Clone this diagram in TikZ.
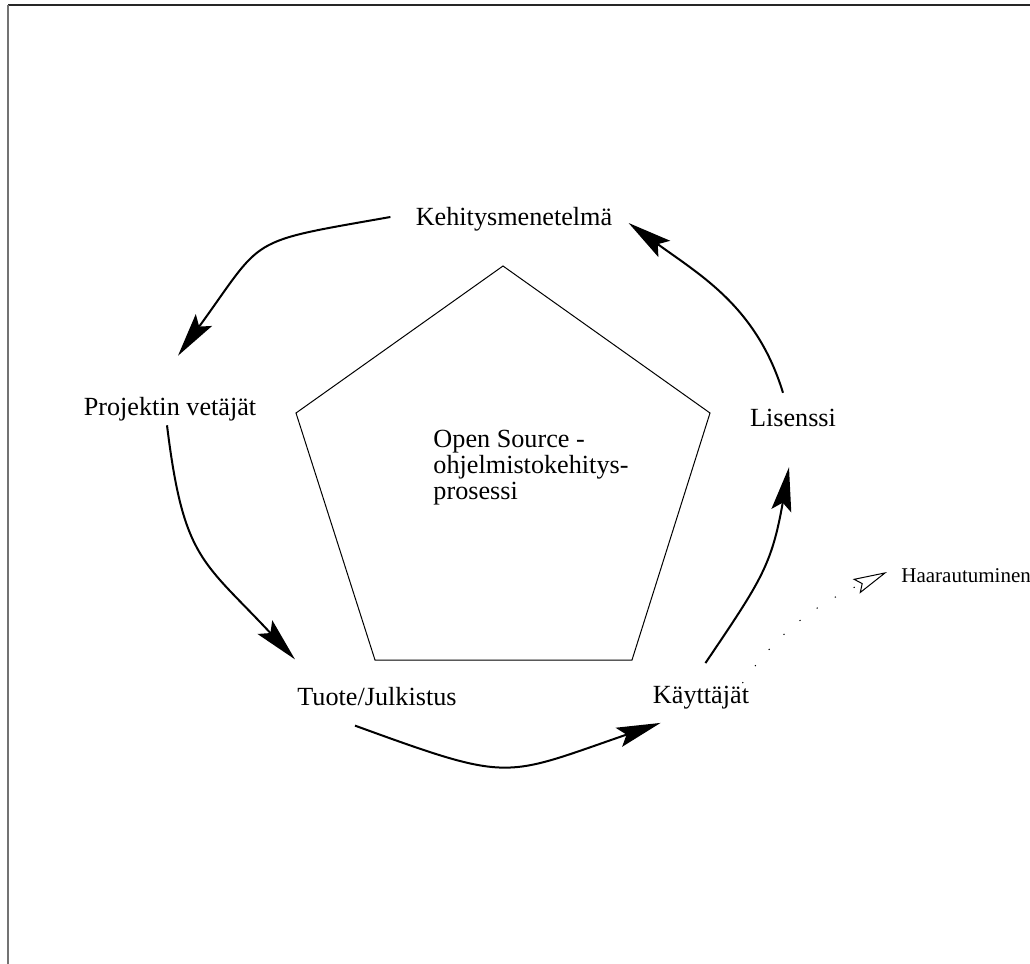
\documentclass[tikz,border=0pt]{standalone}
\usepackage{fontspec}
\setmainfont{Liberation Serif}
\usetikzlibrary{arrows.meta}

\begin{document}
\begin{tikzpicture}[x=0.5pt,y=-0.5pt]
	\useasboundingbox (0,0) rectangle (1030,964);
	% frame
	\draw[line width=1pt,black!85] (8,5) -- (1030,5);
	\draw[line width=1pt,black!55] (8,5) -- (8,964);
	% process pentagon
	\draw[line width=0.5pt] (503,266) -- (710,413) -- (632,660) -- (375,660) -- (296,413) -- cycle;

	\begin{scope}[every node/.style={inner sep=0pt,font=\fontsize{13.1}{13}\selectfont}]
	    \node (K) at (514,219) {Kehitysmenetelmä};
	    \node (P) at (170,409) {Projektin vetäjät};
	    \node (L) at (793,418) {Lisenssi};
	    \node (T) at (377,697) {Tuote/Julkistus};
	    \node (Ky) at (701,698) {Käyttäjät};
	    \node[align=left] (O) at (531,468) {Open Source -\\ohjelmistokehitys-\\prosessi};
	    \node[anchor=west,font=\fontsize{10.5}{12}\selectfont] (H) at (901,576) {Haarautuminen};
	\end{scope}

	\begin{scope}[>={Stealth[length=22pt,width=10pt,inset=4pt]},
	              every edge/.style={draw=black,line width=1pt}]
    	\path [->] ([shift={(-25,-2)}]K.west) edge [out=190,in=54,looseness=1.5] ([shift={(8,-41)}]P.north);
    	\path [->] ([shift={(-3,4)}]P.south) edge [out=-83,in=133,looseness=1.3] ([shift={(-2,-28)}]T.north west);
    	\path [->] ([shift={(58,19)}]T.south west) edge [out=-20,in=199,looseness=1.4] ([shift={(8,13)}]Ky.south west);
    	\path [->] ([shift={(-44,-23)}]Ky.north east) edge [out=56,in=-100,looseness=1.2] ([shift={(-4,40)}]L.south);
    	\path [->] ([shift={(-10,-16)}]L.north) edge [out=107,in=-36] ([shift={(16,4)}]K.east);
	\end{scope}

	\path [-{Stealth[open,length=17pt,width=8pt,inset=3pt]},draw=black,line width=0.5pt,
	       dash pattern=on 0.6pt off 10pt] ([shift={(-7,-3)}]Ky.north east) to [out=55,in=205] ([shift={(-14,-4)}]H.west);
\end{tikzpicture}
\end{document}
